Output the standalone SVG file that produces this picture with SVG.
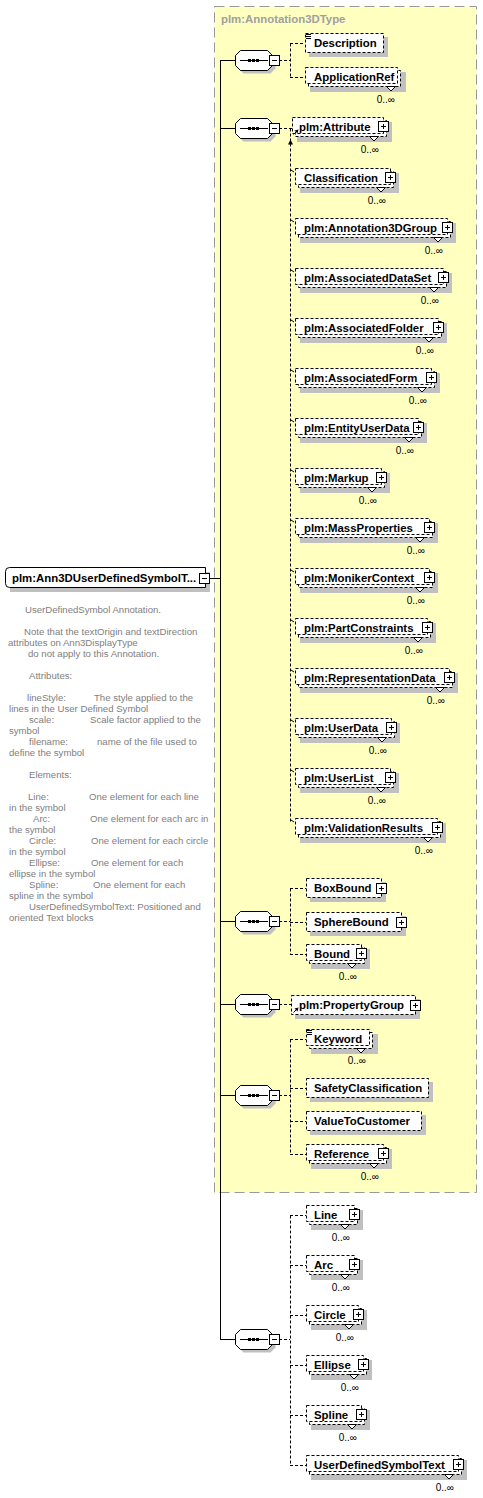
<svg xmlns="http://www.w3.org/2000/svg" width="483" height="1498" viewBox="0 0 483 1498">
<style>
.bx{fill:#fff;stroke:#000;stroke-dasharray:3,2}
.sh{fill:#c0c0c0}
.lbl{font-family:"Liberation Sans",Arial,sans-serif;font-weight:bold;font-size:11.4px;fill:#000}
.occ{font-family:"Liberation Sans",Arial,sans-serif;font-size:10px;fill:#000;text-anchor:end}
.ann{font-family:"Liberation Sans",Arial,sans-serif;font-size:9.6px;fill:#808080}
.ln{stroke:#000;fill:none}
.dl{stroke:#000;fill:none;stroke-dasharray:3,2}
.nt{fill:#fff;stroke:#000}
</style>
<defs>
<g id="minus"><rect x="0.5" y="0.5" width="10" height="10" fill="#fff" stroke="#000"/><path d="M3 5.5H8" stroke="#000"/></g>
<g id="plus"><rect x="0.5" y="0.5" width="10" height="10" fill="#fff" stroke="#000"/><path d="M3 5.5H8M5.5 3V8" stroke="#000"/></g>
<g id="seq"><polygon points="8.5,3.5 35.5,3.5 40.5,8.5 40.5,18.5 35.5,23.5 8.5,23.5 3.5,18.5 3.5,8.5" fill="#c0c0c0"/><polygon points="5.5,0.5 32.5,0.5 37.5,5.5 37.5,15.5 32.5,20.5 5.5,20.5 0.5,15.5 0.5,5.5" fill="#fff" stroke="#000"/><path d="M5 10.5H33" stroke="#000"/><rect x="13" y="9" width="3" height="3"/><rect x="17" y="9" width="3" height="3"/><rect x="21" y="9" width="3" height="3"/><use href="#minus" x="34" y="5"/></g>
</defs>
<rect width="483" height="1498" fill="#fff"/>
<g id="complexType">
<rect x="214.5" y="6.5" width="262" height="1186" fill="#ffffc0" stroke="#999" stroke-dasharray="10,5"/>
<text class="lbl" x="221" y="23" fill="#a0a0a0" style="fill:#a0a0a0">plm:Annotation3DType</text>
</g>
<g id="connectors">
<path class="ln" d="M209 578.5H220M220.5 60V1340M220 60.5H235M220 128.5H235M220 921.5H235M220 1004.5H235M220 1095.5H235M220 1339.5H235"/>
<path class="dl" d="M279 60.5H290M290.5 43.5V77.5M290 43.5H305M290 77.5H305"/>
<path class="dl" d="M279 128.5H292M290.5 128.5V823"/>
<polygon points="288,144.5 293,144.5 290.5,139.5"/>
<path class="ln" d="M291 170l3 2M291 220l3 2M291 270l3 2M291 320l3 2M291 370l3 2M291 420l3 2M291 470l3 2M291 520l3 2M291 570l3 2M291 620l3 2M291 670l3 2M291 720l3 2M291 770l3 2M291 820l3 2"/>
<path class="dl" d="M279 921.5H290M290.5 888.5V954.5M290 888.5H306M290 922.5H306M290 954.5H306"/>
<path class="dl" d="M279 1004.5H291"/>
<path class="dl" d="M279 1095.5H290M290.5 1039.5V1154.5M290 1039.5H306M290 1088.5H306M290 1121.5H306M290 1154.5H306"/>
<path class="dl" d="M279 1339.5H290M290.5 1215.5V1465.5M290 1215.5H306M290 1265.5H306M290 1315.5H306M290 1365.5H306M290 1415.5H306M290 1465.5H306"/>
</g>
<g id="root">
<rect class="sh" x="10" y="572" width="200" height="20"/>
<path d="M9.5 567.5H205.5V587.5H9.5Q5.5 587.5 5.5 583.5V571.5Q5.5 567.5 9.5 567.5Z" fill="#fff" stroke="#000"/>
<text class="lbl" x="12" y="582">plm:Ann3DUserDefinedSymbolT...</text>
<use href="#minus" x="199" y="573"/>
</g>
<g id="annotation">
<text class="ann" x="25" y="612.5">UserDefinedSymbol Annotation.</text>
<text class="ann" x="24" y="634.5">Note that the textOrigin and textDirection</text>
<text class="ann" x="8" y="645.5">attributes on Ann3DisplayType</text>
<text class="ann" x="28" y="656.5">do not apply to this Annotation.</text>
<text class="ann" x="29" y="678.5">Attributes:</text>
<text class="ann" x="27" y="700.5">lineStyle:</text><text class="ann" x="94" y="700.5">The style applied to the</text>
<text class="ann" x="9" y="711.5">lines in the User Defined Symbol</text>
<text class="ann" x="29" y="722.5">scale:</text><text class="ann" x="90" y="722.5">Scale factor applied to the</text>
<text class="ann" x="9" y="733.5">symbol</text>
<text class="ann" x="29" y="744.5">filename:</text><text class="ann" x="97" y="744.5">name of the file used to</text>
<text class="ann" x="9" y="755.5">define the symbol</text>
<text class="ann" x="29" y="777.5">Elements:</text>
<text class="ann" x="28" y="799.5">Line:</text><text class="ann" x="89" y="799.5">One element for each line</text>
<text class="ann" x="9" y="810.5">in the symbol</text>
<text class="ann" x="33" y="821.5">Arc:</text><text class="ann" x="90" y="821.5">One element for each arc in</text>
<text class="ann" x="9" y="832.5">the symbol</text>
<text class="ann" x="29" y="843.5">Circle:</text><text class="ann" x="91" y="843.5">One element for each circle</text>
<text class="ann" x="9" y="854.5">in the symbol</text>
<text class="ann" x="29" y="865.5">Ellipse:</text><text class="ann" x="91" y="865.5">One element for each</text>
<text class="ann" x="9" y="876.5">ellipse in the symbol</text>
<text class="ann" x="29" y="887.5">Spline:</text><text class="ann" x="93" y="887.5">One element for each</text>
<text class="ann" x="9" y="898.5">spline in the symbol</text>
<text class="ann" x="29" y="909.5">UserDefinedSymbolText: Positioned and</text>
<text class="ann" x="9" y="920.5">oriented Text blocks</text>
</g>
<g id="seq1"><use href="#seq" x="235" y="50"/></g>
<g id="seq2"><use href="#seq" x="235" y="118"/></g>
<g id="seq3"><use href="#seq" x="235" y="911"/></g>
<g id="seq4"><use href="#seq" x="235" y="994"/></g>
<g id="seq5"><use href="#seq" x="235" y="1085"/></g>
<g id="seq6"><use href="#seq" x="235" y="1329"/></g>

<g id="Description"><rect class="sh" x="309" y="37" width="79" height="20"/><rect class="bx" x="305.5" y="33.5" width="78" height="19"/><path class="ln" d="M306 34.5h5M306 36.5h5M306 38.5h5"/><text class="lbl" x="314" y="47">Description</text></g>
<g id="ApplicationRef"><rect class="sh" x="310" y="72" width="96" height="20"/><rect class="bx" x="308.5" y="70.5" width="92" height="16"/><rect class="bx" x="305.5" y="67.5" width="92" height="16"/><text class="lbl" x="314" y="80.5">ApplicationRef</text><polygon class="nt" points="386.5,86.5 391,91 395.5,86.5"/><text class="occ" x="395" y="103">0..∞</text></g>

<g id="Attribute"><rect class="sh" x="297" y="122" width="95" height="20"/><rect class="bx" x="295.5" y="120.5" width="91" height="16"/><rect class="bx" x="292.5" y="117.5" width="91" height="16"/><text class="lbl" x="299" y="130.5">plm:Attribute</text><path class="ln" d="M293.5 134.5L296.5 131.5"/><polygon points="298.5,129.5 294.5,130.5 297.5,133.5"/><use href="#plus" x="378" y="121"/><polygon class="nt" points="369.5,136.5 374,141 378.5,136.5"/><text class="occ" x="379" y="153">0..∞</text></g>
<g id="Classification"><rect class="sh" x="300" y="173" width="99" height="20"/><rect class="bx" x="298.5" y="171.5" width="95" height="16"/><rect class="bx" x="295.5" y="168.5" width="95" height="16"/><text class="lbl" x="304" y="181.5">Classification</text><use href="#plus" x="385" y="172"/><polygon class="nt" points="376.5,187.5 381,192 385.5,187.5"/><text class="occ" x="386" y="204">0..∞</text></g>
<g id="Annotation3DGroup"><rect class="sh" x="300" y="223" width="156" height="20"/><rect class="bx" x="298.5" y="221.5" width="152" height="16"/><rect class="bx" x="295.5" y="218.5" width="152" height="16"/><text class="lbl" x="304" y="231.5">plm:Annotation3DGroup</text><use href="#plus" x="442" y="222"/><polygon class="nt" points="433.5,237.5 438,242 442.5,237.5"/><text class="occ" x="443" y="254">0..∞</text></g>
<g id="AssociatedDataSet"><rect class="sh" x="300" y="273" width="152" height="20"/><rect class="bx" x="298.5" y="271.5" width="148" height="16"/><rect class="bx" x="295.5" y="268.5" width="148" height="16"/><text class="lbl" x="304" y="281.5">plm:AssociatedDataSet</text><use href="#plus" x="438" y="272"/><polygon class="nt" points="429.5,287.5 434,292 438.5,287.5"/><text class="occ" x="439" y="304">0..∞</text></g>
<g id="AssociatedFolder"><rect class="sh" x="300" y="323" width="147" height="20"/><rect class="bx" x="298.5" y="321.5" width="143" height="16"/><rect class="bx" x="295.5" y="318.5" width="143" height="16"/><text class="lbl" x="304" y="331.5">plm:AssociatedFolder</text><use href="#plus" x="433" y="322"/><polygon class="nt" points="424.5,337.5 429,342 433.5,337.5"/><text class="occ" x="434" y="354">0..∞</text></g>
<g id="AssociatedForm"><rect class="sh" x="300" y="373" width="140" height="20"/><rect class="bx" x="298.5" y="371.5" width="136" height="16"/><rect class="bx" x="295.5" y="368.5" width="136" height="16"/><text class="lbl" x="304" y="381.5">plm:AssociatedForm</text><use href="#plus" x="426" y="372"/><polygon class="nt" points="417.5,387.5 422,392 426.5,387.5"/><text class="occ" x="427" y="404">0..∞</text></g>
<g id="EntityUserData"><rect class="sh" x="300" y="423" width="127" height="20"/><rect class="bx" x="298.5" y="421.5" width="123" height="16"/><rect class="bx" x="295.5" y="418.5" width="123" height="16"/><text class="lbl" x="304" y="431.5">plm:EntityUserData</text><use href="#plus" x="413" y="422"/><polygon class="nt" points="404.5,437.5 409,442 413.5,437.5"/><text class="occ" x="414" y="454">0..∞</text></g>
<g id="Markup"><rect class="sh" x="300" y="473" width="90" height="20"/><rect class="bx" x="298.5" y="471.5" width="86" height="16"/><rect class="bx" x="295.5" y="468.5" width="86" height="16"/><text class="lbl" x="304" y="481.5">plm:Markup</text><use href="#plus" x="376" y="472"/><polygon class="nt" points="367.5,487.5 372,492 376.5,487.5"/><text class="occ" x="377" y="504">0..∞</text></g>
<g id="MassProperties"><rect class="sh" x="300" y="523" width="138" height="20"/><rect class="bx" x="298.5" y="521.5" width="134" height="16"/><rect class="bx" x="295.5" y="518.5" width="134" height="16"/><text class="lbl" x="304" y="531.5">plm:MassProperties</text><use href="#plus" x="424" y="522"/><polygon class="nt" points="415.5,537.5 420,542 424.5,537.5"/><text class="occ" x="425" y="554">0..∞</text></g>
<g id="MonikerContext"><rect class="sh" x="300" y="573" width="138" height="20"/><rect class="bx" x="298.5" y="571.5" width="134" height="16"/><rect class="bx" x="295.5" y="568.5" width="134" height="16"/><text class="lbl" x="304" y="581.5">plm:MonikerContext</text><use href="#plus" x="424" y="572"/><polygon class="nt" points="415.5,587.5 420,592 424.5,587.5"/><text class="occ" x="425" y="604">0..∞</text></g>
<g id="PartConstraints"><rect class="sh" x="300" y="623" width="136" height="20"/><rect class="bx" x="298.5" y="621.5" width="132" height="16"/><rect class="bx" x="295.5" y="618.5" width="132" height="16"/><text class="lbl" x="304" y="631.5">plm:PartConstraints</text><use href="#plus" x="422" y="622"/><polygon class="nt" points="413.5,637.5 418,642 422.5,637.5"/><text class="occ" x="423" y="654">0..∞</text></g>
<g id="RepresentationData"><rect class="sh" x="300" y="673" width="158" height="20"/><rect class="bx" x="298.5" y="671.5" width="154" height="16"/><rect class="bx" x="295.5" y="668.5" width="154" height="16"/><text class="lbl" x="304" y="681.5">plm:RepresentationData</text><use href="#plus" x="444" y="672"/><polygon class="nt" points="435.5,687.5 440,692 444.5,687.5"/><text class="occ" x="445" y="704">0..∞</text></g>
<g id="UserData"><rect class="sh" x="300" y="723" width="100" height="20"/><rect class="bx" x="298.5" y="721.5" width="96" height="16"/><rect class="bx" x="295.5" y="718.5" width="96" height="16"/><text class="lbl" x="304" y="731.5">plm:UserData</text><use href="#plus" x="386" y="722"/><polygon class="nt" points="377.5,737.5 382,742 386.5,737.5"/><text class="occ" x="387" y="754">0..∞</text></g>
<g id="UserList"><rect class="sh" x="300" y="773" width="99" height="20"/><rect class="bx" x="298.5" y="771.5" width="95" height="16"/><rect class="bx" x="295.5" y="768.5" width="95" height="16"/><text class="lbl" x="304" y="781.5">plm:UserList</text><use href="#plus" x="385" y="772"/><polygon class="nt" points="376.5,787.5 381,792 385.5,787.5"/><text class="occ" x="386" y="804">0..∞</text></g>
<g id="ValidationResults"><rect class="sh" x="300" y="823" width="146" height="20"/><rect class="bx" x="298.5" y="821.5" width="142" height="16"/><rect class="bx" x="295.5" y="818.5" width="142" height="16"/><text class="lbl" x="304" y="831.5">plm:ValidationResults</text><use href="#plus" x="432" y="822"/><polygon class="nt" points="423.5,837.5 428,842 432.5,837.5"/><text class="occ" x="433" y="854">0..∞</text></g>

<g id="BoxBound"><rect class="sh" x="310" y="882" width="76" height="20"/><rect class="bx" x="306.5" y="878.5" width="75" height="19"/><text class="lbl" x="314" y="892">BoxBound</text><use href="#plus" x="376" y="883"/></g>
<g id="SphereBound"><rect class="sh" x="310" y="916" width="96" height="20"/><rect class="bx" x="306.5" y="912.5" width="95" height="19"/><text class="lbl" x="314" y="926">SphereBound</text><use href="#plus" x="396" y="917"/></g>
<g id="Bound"><rect class="sh" x="311" y="949" width="59" height="20"/><rect class="bx" x="309.5" y="947.5" width="55" height="16"/><rect class="bx" x="306.5" y="944.5" width="55" height="16"/><text class="lbl" x="314" y="957.5">Bound</text><use href="#plus" x="356" y="948"/><polygon class="nt" points="347.5,963.5 352,968 356.5,963.5"/><text class="occ" x="357" y="980">0..∞</text></g>

<g id="PropertyGroup"><rect class="sh" x="295" y="999" width="125" height="20"/><rect class="bx" x="291.5" y="995.5" width="124" height="19"/><text class="lbl" x="299" y="1009">plm:PropertyGroup</text><path class="ln" d="M293.5 1012.5L296.5 1009.5"/><polygon points="298.5,1007.5 294.5,1008.5 297.5,1011.5"/><use href="#plus" x="410" y="1000"/></g>

<g id="Keyword"><rect class="sh" x="311" y="1034" width="67" height="20"/><rect class="bx" x="309.5" y="1032.5" width="63" height="16"/><rect class="bx" x="306.5" y="1029.5" width="63" height="16"/><path class="ln" d="M307 1030.5h5M307 1032.5h5M307 1034.5h5"/><text class="lbl" x="314" y="1042.5">Keyword</text><polygon class="nt" points="356.5,1048.5 361,1053 365.5,1048.5"/><text class="occ" x="366" y="1064">0..∞</text></g>
<g id="SafetyClassification"><rect class="sh" x="310" y="1082" width="123" height="20"/><rect class="bx" x="306.5" y="1078.5" width="122" height="19"/><text class="lbl" x="314" y="1092">SafetyClassification</text></g>
<g id="ValueToCustomer"><rect class="sh" x="310" y="1115" width="116" height="20"/><rect class="bx" x="306.5" y="1111.5" width="115" height="19"/><text class="lbl" x="314" y="1125">ValueToCustomer</text></g>
<g id="Reference"><rect class="sh" x="311" y="1149" width="81" height="20"/><rect class="bx" x="309.5" y="1147.5" width="77" height="16"/><rect class="bx" x="306.5" y="1144.5" width="77" height="16"/><text class="lbl" x="314" y="1157.5">Reference</text><use href="#plus" x="378" y="1148"/><polygon class="nt" points="369.5,1163.5 374,1168 378.5,1163.5"/><text class="occ" x="379" y="1180">0..∞</text></g>

<g id="Line"><rect class="sh" x="311" y="1210" width="52" height="20"/><rect class="bx" x="309.5" y="1208.5" width="48" height="16"/><rect class="bx" x="306.5" y="1205.5" width="48" height="16"/><text class="lbl" x="314" y="1218.5">Line</text><use href="#plus" x="349" y="1209"/><polygon class="nt" points="340.5,1224.5 345,1229 349.5,1224.5"/><text class="occ" x="350" y="1241">0..∞</text></g>
<g id="Arc"><rect class="sh" x="311" y="1260" width="52" height="20"/><rect class="bx" x="309.5" y="1258.5" width="48" height="16"/><rect class="bx" x="306.5" y="1255.5" width="48" height="16"/><text class="lbl" x="314" y="1268.5">Arc</text><use href="#plus" x="349" y="1259"/><polygon class="nt" points="340.5,1274.5 345,1279 349.5,1274.5"/><text class="occ" x="350" y="1291">0..∞</text></g>
<g id="Circle"><rect class="sh" x="311" y="1310" width="56" height="20"/><rect class="bx" x="309.5" y="1308.5" width="52" height="16"/><rect class="bx" x="306.5" y="1305.5" width="52" height="16"/><text class="lbl" x="314" y="1318.5">Circle</text><use href="#plus" x="353" y="1309"/><polygon class="nt" points="344.5,1324.5 349,1329 353.5,1324.5"/><text class="occ" x="354" y="1341">0..∞</text></g>
<g id="Ellipse"><rect class="sh" x="311" y="1360" width="61" height="20"/><rect class="bx" x="309.5" y="1358.5" width="57" height="16"/><rect class="bx" x="306.5" y="1355.5" width="57" height="16"/><text class="lbl" x="314" y="1368.5">Ellipse</text><use href="#plus" x="358" y="1359"/><polygon class="nt" points="349.5,1374.5 354,1379 358.5,1374.5"/><text class="occ" x="359" y="1391">0..∞</text></g>
<g id="Spline"><rect class="sh" x="311" y="1410" width="59" height="20"/><rect class="bx" x="309.5" y="1408.5" width="55" height="16"/><rect class="bx" x="306.5" y="1405.5" width="55" height="16"/><text class="lbl" x="314" y="1418.5">Spline</text><use href="#plus" x="356" y="1409"/><polygon class="nt" points="347.5,1424.5 352,1429 356.5,1424.5"/><text class="occ" x="357" y="1441">0..∞</text></g>
<g id="UserDefinedSymbolText"><rect class="sh" x="311" y="1460" width="156" height="20"/><rect class="bx" x="309.5" y="1458.5" width="152" height="16"/><rect class="bx" x="306.5" y="1455.5" width="152" height="16"/><text class="lbl" x="314" y="1468.5">UserDefinedSymbolText</text><use href="#plus" x="453" y="1459"/><polygon class="nt" points="444.5,1474.5 449,1479 453.5,1474.5"/><text class="occ" x="454" y="1491">0..∞</text></g>
</svg>
